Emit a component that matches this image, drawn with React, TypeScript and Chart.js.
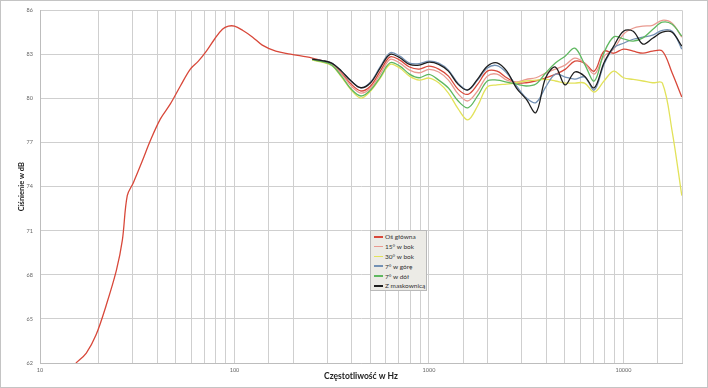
import React, { useEffect, useRef } from "react";
import { Chart, registerables } from "chart.js";
Chart.register(...registerables);

const seriesNames = ["Oś główna", "15° w bok", "30° w bok", "7° w górę", "7° w dół", "Z maskownicą"];
const seriesColors = ["#d8483a", "#e99a90", "#e2e25a", "#7391b4", "#5fb860", "#1e1e1e"];

const xTickLabels = [10, 100, 1000, 10000];
const yMin = 62;
const yMax = 86;
const yStep = 3;
const xMin = 10;
const xMax = 20000;

// Oś główna below 250 Hz
const lowFreqs = [15.3, 17.3, 19.4, 21.9, 24.7, 26.5, 28.1, 30.2, 33.6, 36.9, 41.6, 46.8, 52.7, 59.3, 65.2, 71.7, 78.9, 86.7, 93.1, 100, 110, 124, 139, 163, 194];
const mainLow = [62.0, 62.68, 63.9, 65.93, 68.3, 70.34, 73.39, 74.27, 75.76, 77.12, 78.61, 79.63, 80.85, 82.0, 82.54, 83.22, 84.03, 84.71, 84.92, 84.92, 84.64, 84.17, 83.63, 83.22, 83.02];

// common frequencies from 250 Hz up
const gridFreqs = [251, 282, 316, 355, 398, 447, 501, 562, 631, 708, 794, 891, 1000, 1122, 1259, 1413, 1585, 1778, 1995, 2239, 2512, 2818, 3162, 3548, 3981, 4467, 5012, 5623, 6310, 7079, 7943, 8913, 10000, 11220, 12589, 14125, 15849, 17783, 19953];

const mainHigh = [82.75, 82.58, 82.34, 81.73, 80.98, 80.51, 80.85, 81.86, 82.83, 82.61, 82.14, 82.0, 82.2, 82.0, 81.52, 80.62, 80.28, 80.96, 81.86, 81.86, 81.41, 81.07, 81.07, 81.19, 81.41, 81.64, 81.98, 82.54, 82.41, 81.86, 83.22, 83.08, 83.36, 83.22, 83.08, 83.22, 83.22, 81.75, 80.1];
const side15 = [82.64, 82.54, 82.31, 81.66, 80.85, 80.37, 80.71, 81.66, 82.66, 82.41, 81.93, 81.75, 81.98, 81.8, 81.25, 80.31, 79.83, 80.51, 81.52, 81.66, 81.25, 81.12, 81.3, 81.41, 81.73, 82.0, 82.27, 82.75, 82.41, 81.66, 82.88, 83.36, 84.37, 84.78, 84.92, 84.98, 85.32, 85.12, 84.17];
const side30 = [82.61, 82.47, 82.24, 81.46, 80.58, 80.03, 80.51, 81.39, 82.32, 82.07, 81.52, 81.25, 81.39, 81.07, 80.37, 79.29, 78.54, 79.49, 80.78, 80.92, 80.98, 81.07, 81.19, 81.25, 81.3, 81.19, 81.05, 81.05, 81.05, 80.44, 81.19, 81.86, 81.41, 81.3, 81.19, 81.07, 81.05, 77.8, 73.39];
const up7 = [82.68, 82.58, 82.41, 81.86, 81.19, 80.73, 81.12, 82.17, 83.11, 82.88, 82.41, 82.37, 82.54, 82.41, 81.93, 81.02, 80.58, 81.25, 82.07, 82.24, 81.73, 80.85, 80.05, 79.72, 80.78, 81.66, 81.46, 81.32, 81.46, 80.58, 82.32, 83.44, 83.76, 84.03, 84.17, 84.31, 84.64, 84.58, 83.36];
const down7 = [82.64, 82.51, 82.27, 81.52, 80.64, 80.17, 80.58, 81.46, 82.43, 82.2, 81.66, 81.41, 81.64, 81.25, 80.71, 79.83, 79.36, 80.17, 81.19, 81.25, 81.12, 80.98, 80.85, 80.98, 81.73, 82.41, 82.88, 83.42, 82.34, 81.19, 83.11, 84.19, 84.05, 83.9, 84.12, 84.69, 85.19, 85.05, 84.24];
const withGrille = [82.68, 82.58, 82.41, 81.86, 81.19, 80.73, 81.07, 82.09, 83.0, 82.77, 82.32, 82.27, 82.47, 82.32, 81.86, 80.96, 80.58, 81.32, 82.2, 82.43, 81.86, 80.71, 79.95, 79.04, 81.41, 82.14, 80.92, 81.8, 81.52, 80.73, 82.43, 83.56, 84.58, 84.58, 83.7, 84.1, 84.51, 84.51, 83.56];

const toPoints = (fs: number[], vs: number[]) => fs.map((f, i) => ({ x: f, y: vs[i] }));

const FONT = "Lato, 'Open Sans', 'DejaVu Sans', sans-serif";

export default function App() {
  const ref = useRef<HTMLCanvasElement | null>(null);
  useEffect(() => {
    if (!ref.current) return;
    const seriesData = [
      [...toPoints(lowFreqs, mainLow), ...toPoints(gridFreqs, mainHigh)],
      toPoints(gridFreqs, side15),
      toPoints(gridFreqs, side30),
      toPoints(gridFreqs, up7),
      toPoints(gridFreqs, down7),
      toPoints(gridFreqs, withGrille),
    ];
    const chart = new Chart(ref.current, {
      type: "line",
      data: {
        datasets: seriesNames.map((name, i) => ({
          label: name,
          data: seriesData[i],
          borderColor: seriesColors[i],
          backgroundColor: seriesColors[i],
          borderWidth: 1.3,
          pointRadius: 0,
          tension: 0.35,
          fill: false,
          order: i === 5 ? 0 : 6 - i,
        })),
      },
      options: {
        responsive: false,
        animation: false,
        devicePixelRatio: 1,
        layout: { padding: { left: 0, top: 9, right: 26, bottom: 0 } },
        plugins: { legend: { display: false }, tooltip: { enabled: false } },
        scales: {
          x: {
            type: "logarithmic",
            min: xMin,
            max: xMax,
            afterFit: (s: any) => { s.height = 25; },
            grid: { color: "#cfcfcf", lineWidth: 1, drawTicks: false },
            border: { color: "#bdbdbd" },
            ticks: {
              autoSkip: false,
              maxRotation: 0,
              padding: 4,
              color: "#666",
              font: { family: FONT, size: 5.5 },
              callback: (v: any) => (xTickLabels.includes(Number(v)) ? String(v) : ""),
            },
            title: {
              display: true,
              text: "Częstotliwość w Hz",
              color: "#222",
              font: { family: FONT, size: 8.5, weight: "bold", lineHeight: 1 },
              padding: { top: 0, bottom: 7 },
            },
          },
          y: {
            min: yMin,
            max: yMax,
            afterFit: (s: any) => { s.width = 40; },
            grid: { color: "#cfcfcf", lineWidth: 1, drawTicks: false },
            border: { color: "#bdbdbd" },
            ticks: {
              stepSize: yStep,
              padding: 7,
              color: "#666",
              font: { family: FONT, size: 5.5 },
            },
            title: {
              display: true,
              text: "Ciśnienie w dB",
              color: "#222",
              font: { family: FONT, size: 7.5, weight: "bold", lineHeight: 1 },
              padding: { top: 18, bottom: 0 },
            },
          },
        },
      },
    });
    return () => chart.destroy();
  }, []);

  return (
    <div style={{ position: "absolute", left: 0, top: 0, width: 708, height: 388, background: "#fff" }}>
      <canvas ref={ref} width={708} height={388} style={{ display: "block" }} />
      <div style={{ position: "absolute", left: 0, top: 0, width: 708, height: 388, boxSizing: "border-box", border: "1px solid #c4c4c4", pointerEvents: "none" }} />
      <div
        style={{
          position: "absolute",
          left: 370,
          top: 230,
          width: 57,
          height: 61,
          boxSizing: "border-box",
          background: "#ecebe6",
          border: "1px solid #b9b9b9",
          padding: "1px 0 0 3px",
          fontFamily: FONT,
          fontSize: 6.5,
          color: "#333",
        }}
      >
        {seriesNames.map((n, i) => (
          <div key={n} style={{ display: "flex", alignItems: "center", height: 9.8, whiteSpace: "nowrap" }}>
            <span style={{ display: "inline-block", width: 9, height: 1.6, background: seriesColors[i], marginRight: 2 }} />
            <span>{n}</span>
          </div>
        ))}
      </div>
    </div>
  );
}
